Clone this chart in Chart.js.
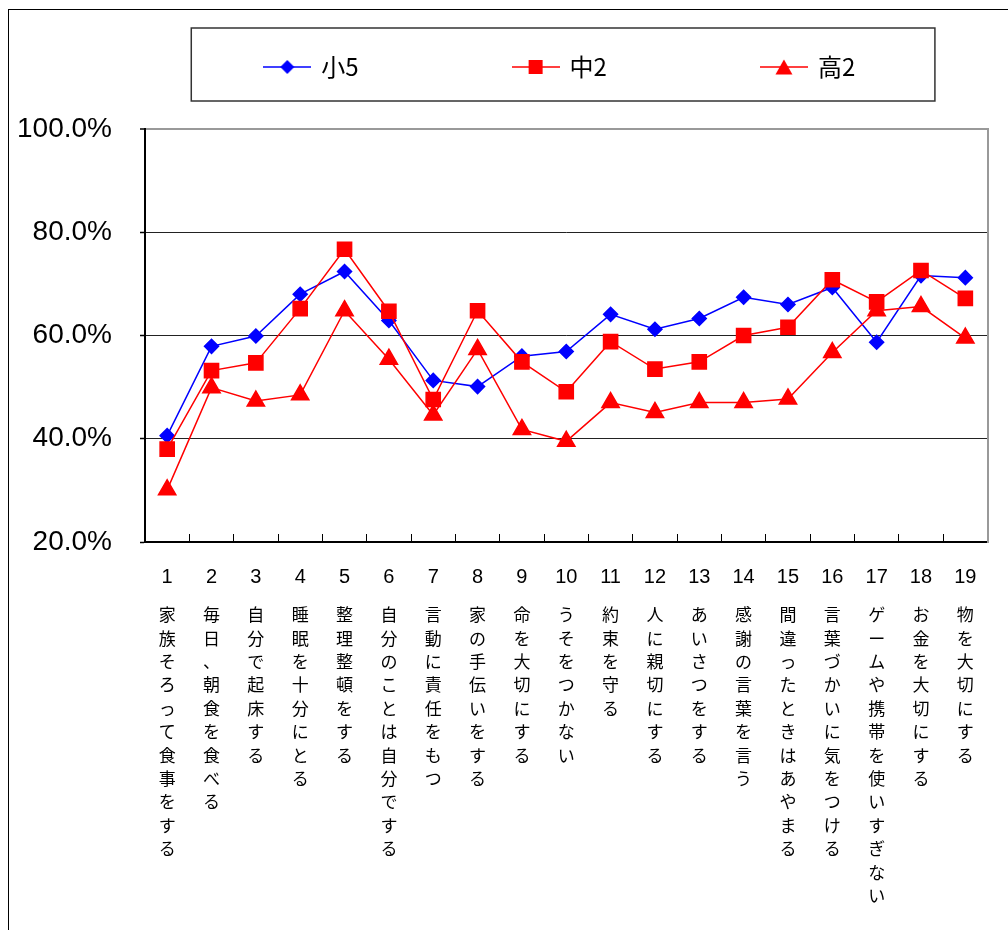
<!DOCTYPE html>
<html>
<head>
<meta charset="utf-8">
<script src="https://cdn.jsdelivr.net/npm/chart.js@4.4.0/dist/chart.umd.min.js"></script>
<style>
body { margin: 0; overflow: hidden; background: #fff; }
#frame { position: absolute; left: 8px; top: 9px; width: 1100px; height: 1000px; border: 1.5px solid #000; }
#wrap { position: absolute; left: 0; top: 0; width: 1008px; height: 930px; }
</style>
</head>
<body>
<div id="frame"></div>
<div id="wrap"><canvas id="chart" width="1008" height="930"></canvas></div>
<script>
var numbers = ['1','2','3','4','5','6','7','8','9','10','11','12','13','14','15','16','17','18','19'];
var items = [
  '家族そろって食事をする', '毎日、朝食を食べる', '自分で起床する', '睡眠を十分にとる',
  '整理整頓をする', '自分のことは自分でする', '言動に責任をもつ', '家の手伝いをする',
  '命を大切にする', 'うそをつかない', '約束を守る', '人に親切にする', 'あいさつをする',
  '感謝の言葉を言う', '間違ったときはあやまる', '言葉づかいに気をつける',
  'ゲームや携帯を使いすぎない', 'お金を大切にする', '物を大切にする'
];
var shou5 = [40.6, 57.9, 59.9, 68.0, 72.4, 62.9, 51.3, 50.1, 56.0, 56.9, 64.1, 61.2, 63.3, 67.4, 66.0, 69.3, 58.7, 71.6, 71.2];
var chu2  = [38.0, 53.2, 54.7, 65.2, 76.7, 64.7, 47.6, 64.8, 54.9, 49.1, 58.8, 53.5, 54.9, 60.0, 61.6, 70.8, 66.5, 72.6, 67.2];
var kou2  = [30.1, 49.9, 47.3, 48.5, 64.8, 55.4, 44.6, 57.3, 41.8, 39.5, 47.0, 45.1, 47.0, 47.0, 47.7, 56.7, 64.8, 65.6, 59.5];
var seriesNames = ['小5', '中2', '高2'];
var yTicks = [20, 40, 60, 80, 100];

// vertical item text: one character per line
var itemLines = items.map(function(s) { return s.split(''); });

// legend sample: short line with the marker in the middle
function legendMark(shape, color) {
  var c = document.createElement('canvas');
  c.width = 48; c.height = 20;
  var g = c.getContext('2d');
  g.strokeStyle = color; g.fillStyle = color; g.lineWidth = 1.5;
  g.beginPath(); g.moveTo(0, 10); g.lineTo(48, 10); g.stroke();
  g.beginPath();
  if (shape == 'diamond') {
    g.moveTo(24, 3); g.lineTo(31, 10); g.lineTo(24, 17); g.lineTo(17, 10);
  } else if (shape == 'square') {
    g.rect(17, 3, 14, 14);
  } else {
    g.moveTo(24, 2.5); g.lineTo(32.5, 17.5); g.lineTo(15.5, 17.5);
  }
  g.closePath(); g.fill();
  return c;
}
var marks = [legendMark('diamond', '#0000FF'), legendMark('square', '#FF0000'), legendMark('triangle', '#FF0000')];
var gaps = ['\u3000\u3000\u3000\u3000\u3000\u3000', '\u3000\u3000\u3000\u3000\u3000\u3000', '\u2002'];

// box round the legend
var legendFrame = {
  id: 'legendFrame',
  afterDraw: function(chart) {
    var hb = chart.legend.legendHitBoxes;
    if (!hb || !hb.length) return;
    var ctx = chart.ctx;
    var x0 = hb[0].left - 74, x1 = hb[hb.length - 1].left + 173;
    var y0 = hb[0].top - 27, y1 = hb[0].top + 46;
    ctx.save();
    ctx.strokeStyle = '#333';
    ctx.lineWidth = 1.5;
    ctx.strokeRect(x0, y0, x1 - x0, y1 - y0);
    ctx.restore();
  }
};

Chart.defaults.font.family = '"Liberation Sans", Arial, sans-serif';
Chart.defaults.color = '#000';

new Chart(document.getElementById('chart'), {
  type: 'line',
  data: {
    labels: numbers,
    datasets: [{
        label: seriesNames[0],
        data: shou5,
        borderColor: '#0000FF',
        backgroundColor: '#0000FF',
        borderWidth: 1.5,
        pointStyle: 'rectRot',
        pointRadius: 7,
        order: 3
      }, {
        label: seriesNames[1],
        data: chu2,
        borderColor: '#FF0000',
        backgroundColor: '#FF0000',
        borderWidth: 1.5,
        pointStyle: 'rect',
        pointRadius: 10,
        order: 2
      }, {
        label: seriesNames[2],
        data: kou2,
        borderColor: '#FF0000',
        backgroundColor: '#FF0000',
        borderWidth: 1.5,
        pointStyle: 'triangle',
        pointRadius: 10,
        order: 1
      }
    ]
  },
  options: {
    responsive: false,
    animation: false,
    layout: { padding: { left: 0, right: 6, top: 44, bottom: 5 } },
    plugins: {
      tooltip: { enabled: false },
      legend: {
        position: 'top',
        fullSize: false,
        labels: {
          usePointStyle: true,
          pointStyleWidth: 44,
          padding: 11,
          color: '#000',
          font: { family: '"Liberation Sans Narrow", "Noto Sans CJK JP", sans-serif', size: 24 },
          generateLabels: function(chart) {
            return chart.data.datasets.map(function(ds, i) {
              return {
                text: ds.label + gaps[i],
                pointStyle: marks[i],
                fillStyle: ds.borderColor,
                strokeStyle: ds.borderColor,
                lineWidth: 0,
                hidden: false,
                datasetIndex: i,
                fontColor: '#000'
              };
            });
          }
        }
      }
    },
    scales: {
      x: {
        offset: true,
        grid: { offset: true, drawOnChartArea: false, tickLength: -8, color: '#000', lineWidth: 1 },
        border: { color: '#000', width: 2 },
        ticks: { autoSkip: false, maxRotation: 0, padding: 31, font: { size: 20 } },
        afterFit: function(s) { s.height = 53; }
      },
      x2: {
        type: 'category',
        labels: itemLines,
        position: 'bottom',
        offset: true,
        grid: { display: false },
        border: { display: false },
        ticks: { autoSkip: false, maxRotation: 0, padding: 0,
                 font: { family: '"Noto Sans CJK JP", sans-serif', size: 17, lineHeight: '23.4px' } },
        afterFit: function(s) { s.height = 330; }
      },
      xTop: {
        type: 'category',
        position: 'top',
        grid: { display: false },
        border: { display: false },
        ticks: { display: false },
        afterFit: function(s) { s.height = 40; }
      },
      y: {
        min: 20,
        max: 100,
        afterBuildTicks: function(s) { s.ticks = yTicks.map(function(v) { return { value: v }; }); },
        ticks: {
          padding: 28,
          font: { size: 28 },
          callback: function(v) { return v.toFixed(1) + '%'; }
        },
        grid: {
          color: function(c) { return c.tick && c.tick.value == 100 ? '#999' : '#222'; },
          lineWidth: function(c) { return c.tick && c.tick.value == 100 ? 2 : 1; },
          tickColor: '#000',
          tickWidth: 1.5,
          tickLength: 5
        },
        border: { color: '#000', width: 2 },
        afterFit: function(s) { s.width = 145; }
      },
      yRight: {
        type: 'linear',
        position: 'right',
        grid: { display: false },
        ticks: { display: false },
        border: { color: '#999', width: 2 },
        afterFit: function(s) { s.width = 0; }
      }
    }
  },
  plugins: [legendFrame]
});
</script>
</body>
</html>
